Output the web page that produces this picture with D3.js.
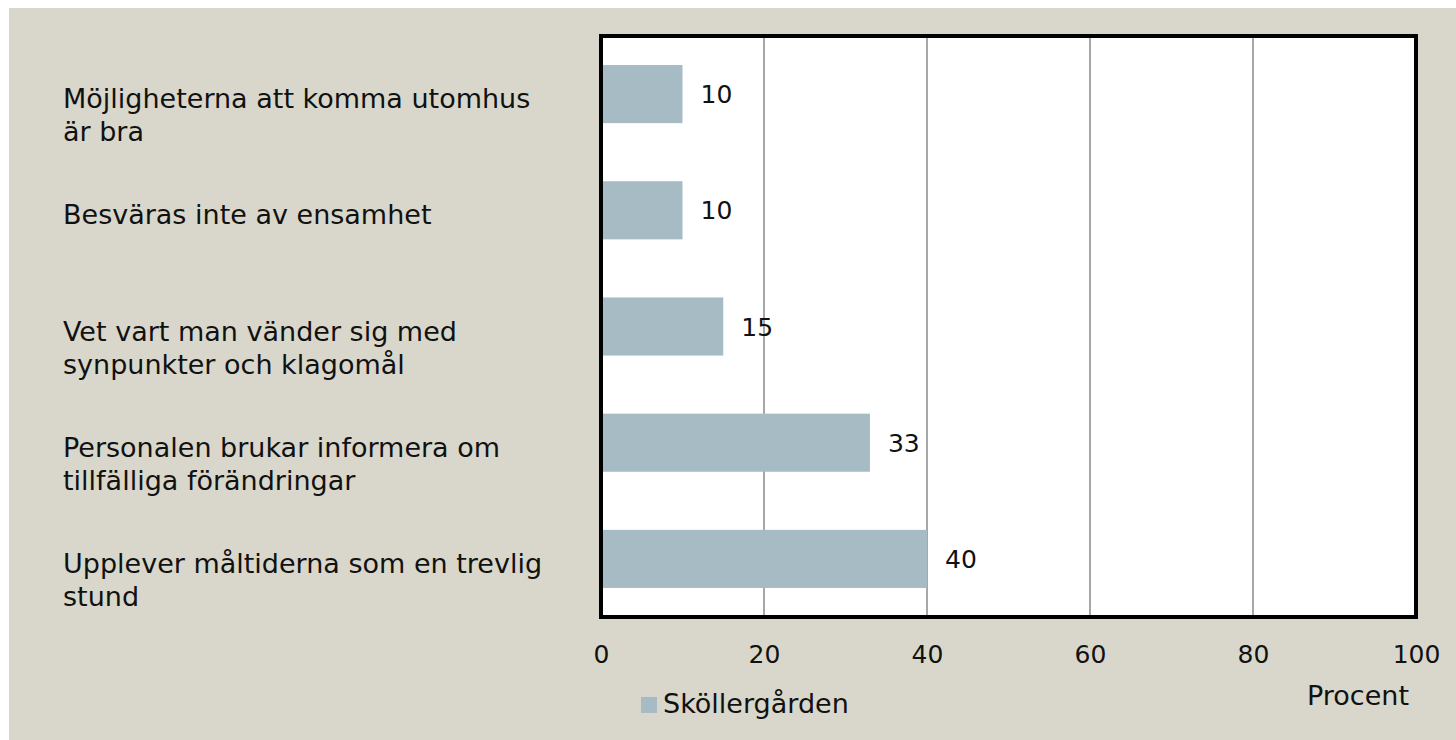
<!DOCTYPE html>
<html>
<head>
<meta charset="utf-8">
<script src="https://cdn.jsdelivr.net/npm/d3@7"></script>
<style>
  html, body { margin: 0; padding: 0; background: #fff; }
  svg text { font-family: "DejaVu Sans", sans-serif; fill: #111; }
</style>
</head>
<body>
<svg id="chart" width="1456" height="740"></svg>
<script>
// data
const categories = [
  ['Möjligheterna att komma utomhus', 'är bra'],
  ['Besväras inte av ensamhet'],
  ['Vet vart man vänder sig med', 'synpunkter och klagomål'],
  ['Personalen brukar informera om', 'tillfälliga förändringar'],
  ['Upplever måltiderna som en trevlig', 'stund']
];
const values = [10, 10, 15, 33, 40];
const xTicks = [0, 20, 40, 60, 80, 100];
const seriesName = 'Sköllergården';
const axisTitle = 'Procent';

const BG = '#d9d7cb';
const BAR = '#a7bbc5';
const GRID = '#8a8a8a';
const FONT_SIZE = 27;
const NUM_SIZE = 25;

const MARGIN = { top: 36, left: 601, right: 40, bottom: 123 };
const W = 1456, H = 740;
const width = W - MARGIN.left - MARGIN.right;
const height = H - MARGIN.top - MARGIN.bottom;

const svg = d3.select('#chart');

svg.append('rect')
  .attr('x', 9).attr('y', 8)
  .attr('width', W - 9).attr('height', H - 8)
  .attr('fill', BG);

const g = svg.append('g').attr('transform', `translate(${MARGIN.left},${MARGIN.top})`);

const x = d3.scaleLinear().domain([0, 100]).range([0, width]);
const y = d3.scaleBand()
  .domain(d3.range(categories.length))
  .range([0, height])
  .paddingInner(0.5)
  .paddingOuter(0.25);

// plot area
g.append('rect')
  .attr('width', width).attr('height', height)
  .attr('fill', '#fff');

// gridlines
g.selectAll('line.grid')
  .data(xTicks.filter(d => d > 0 && d < 100))
  .join('line')
  .attr('class', 'grid')
  .attr('x1', d => x(d)).attr('x2', d => x(d))
  .attr('y1', 0).attr('y2', height)
  .attr('stroke', GRID).attr('stroke-width', 1.5);

// bars
g.selectAll('rect.bar')
  .data(values)
  .join('rect')
  .attr('class', 'bar')
  .attr('x', x(0) - 1)
  .attr('y', (d, i) => y(i))
  .attr('width', d => x(d) - x(0) + 1)
  .attr('height', y.bandwidth())
  .attr('fill', BAR);

// value labels
g.selectAll('text.val')
  .data(values)
  .join('text')
  .attr('class', 'val')
  .attr('x', d => x(d) + 18)
  .attr('y', (d, i) => y(i) + y.bandwidth() / 2)
  .attr('dy', '0.36em')
  .attr('font-size', NUM_SIZE)
  .text(d => d);

// frame
g.append('rect')
  .attr('width', width).attr('height', height)
  .attr('fill', 'none')
  .attr('stroke', '#000').attr('stroke-width', 4);

// x axis labels
const axisX = d3.axisBottom(x).tickValues(xTicks).tickSize(0).tickPadding(28);
const gx = g.append('g')
  .attr('transform', `translate(0,${height})`)
  .call(axisX);
gx.select('.domain').remove();
gx.selectAll('text')
  .attr('font-size', NUM_SIZE)
  .attr('font-family', '"DejaVu Sans", sans-serif')
  .attr('fill', '#111');

// category labels
const cats = svg.selectAll('text.cat')
  .data(categories)
  .join('text')
  .attr('class', 'cat')
  .attr('font-size', FONT_SIZE)
  .attr('x', 63)
  .attr('y', (d, i) => MARGIN.top + y(i) + y.bandwidth() / 2 + 14);

cats.selectAll('tspan')
  .data(d => d)
  .join('tspan')
  .attr('x', 63)
  .attr('dy', (d, i) => i === 0 ? 0 : 33)
  .text(d => d);

// axis title
svg.append('text')
  .attr('x', 1409).attr('y', 705)
  .attr('text-anchor', 'end')
  .attr('font-size', FONT_SIZE)
  .text(axisTitle);

// legend
svg.append('rect')
  .attr('x', 641).attr('y', 697)
  .attr('width', 16).attr('height', 16)
  .attr('fill', BAR);
svg.append('text')
  .attr('x', 663).attr('y', 713)
  .attr('font-size', FONT_SIZE)
  .text(seriesName);
</script>
</body>
</html>
